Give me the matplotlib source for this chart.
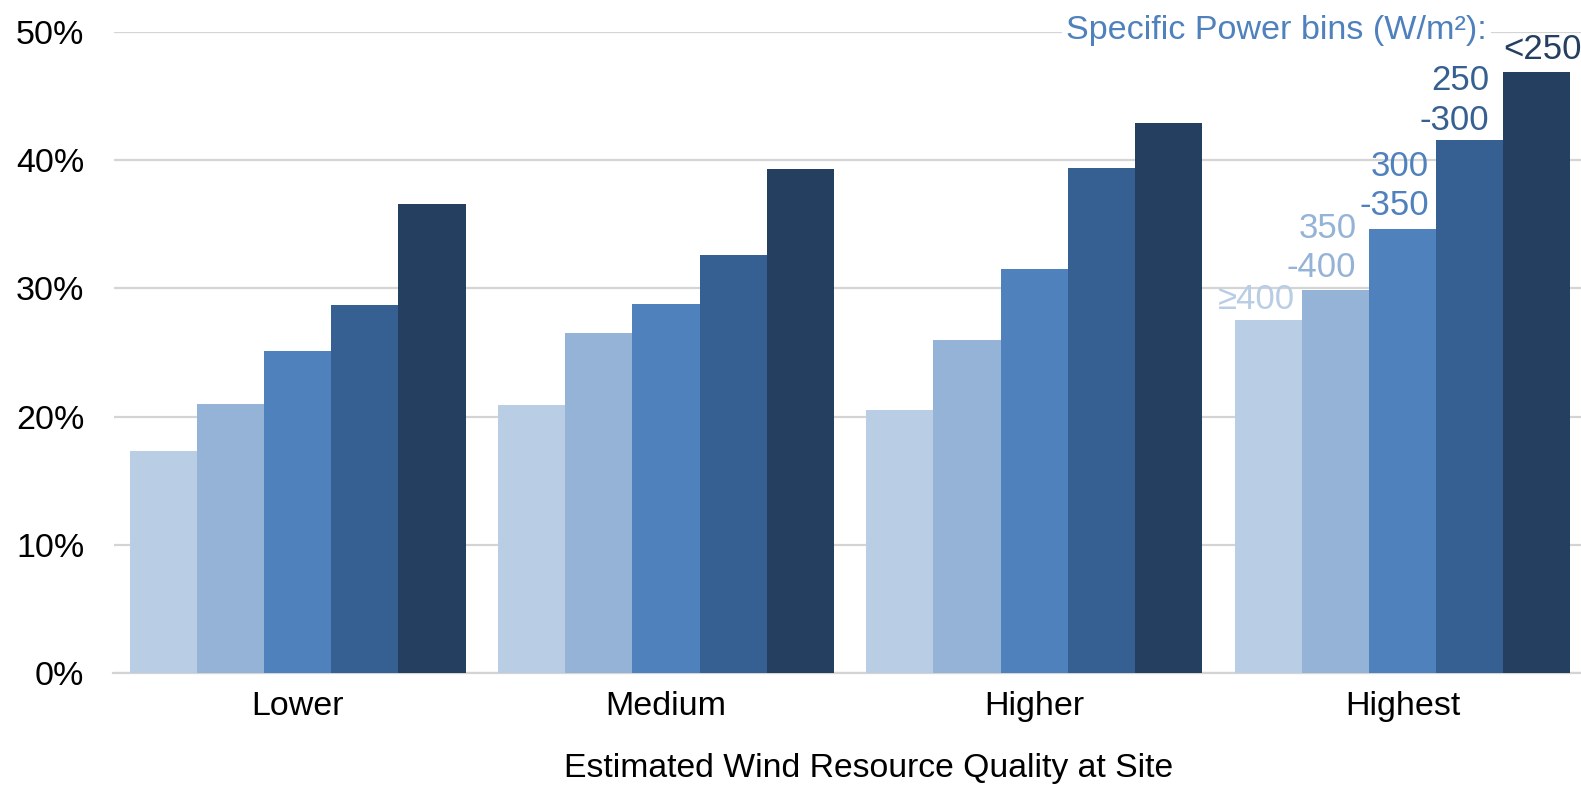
import numpy as np
import matplotlib
matplotlib.use("Agg")
import matplotlib.pyplot as plt

plt.rcParams['font.family'] = ['Liberation Sans', 'DejaVu Sans']

categories = ["Lower", "Medium", "Higher", "Highest"]
bins = ["\u2265400", "350\n-400", "300\n-350", "250\n-300", "<250"]
# capacity factor (%) per specific power bin, one list per bin
cf_ge400 = [17.3, 20.9, 20.5, 27.5]
cf_350_400 = [21.0, 26.5, 26.0, 29.9]
cf_300_350 = [25.1, 28.8, 31.5, 34.6]
cf_250_300 = [28.7, 32.6, 39.4, 41.6]
cf_lt250 = [36.6, 39.3, 42.9, 46.9]
yticks = [0, 10, 20, 30, 40, 50]

series = [cf_ge400, cf_350_400, cf_300_350, cf_250_300, cf_lt250]
colors = ["#B9CDE5", "#95B3D7", "#4F81BD", "#366092", "#243F60"]

fig = plt.figure(figsize=(15.81, 7.85), dpi=100)
ax = fig.add_axes([113.5/1581, 0.1427, (1586.7-113.5)/1581, 0.9592-0.1427])

x = np.arange(len(categories))
w = 0.1824
for i, (vals, c) in enumerate(zip(series, colors)):
    ax.bar(x + (i - 2) * w, vals, width=w, color=c, zorder=3)

ax.set_xlim(-0.5, 3.5)
ax.set_ylim(0, 50)
ax.set_yticks(yticks)
ax.set_yticklabels([f"{t}%" for t in yticks], fontsize=24.5)
ax.set_xticks(x)
ax.set_xticklabels(categories, fontsize=24.5)
ax.tick_params(axis='both', length=0)
ax.tick_params(axis='y', pad=21)
ax.tick_params(axis='x', pad=13)
ax.grid(axis='y', color='#D4D4D4', linewidth=1.6, zorder=0)
for s in ['top', 'right', 'left']:
    ax.spines[s].set_visible(False)
ax.spines['bottom'].set_color('#D4D4D4')
ax.spines['bottom'].set_linewidth(1.6)

# bin labels next to the "Highest" bars
last = len(categories) - 1
offsets = [(-5, 3), (-9, 4), (-5, 5), (-10, 2), (0, 4)]
for i, (lab, c, (dx, dy)) in enumerate(zip(bins, colors, offsets)):
    xc = x[last] + (i - 2) * w
    val = series[i][last]
    if i == 4:
        ax.annotate(lab, xy=(xc - w/2, val), xytext=(dx, dy), textcoords='offset points',
                    ha='left', va='bottom', color=c, fontsize=25, linespacing=1.25,
                    annotation_clip=False)
    else:
        ax.annotate(lab, xy=(xc + w/2, val), xytext=(dx, dy), textcoords='offset points',
                    ha='right', va='bottom', color=c, fontsize=25, linespacing=1.25)

fig.text(1487/1581, 1 - 30.5/785, "Specific Power bins (W/m\u00b2):", ha='right', va='center',
         fontsize=24.6, color='#4F81BD',
         bbox=dict(facecolor='white', edgecolor='none', pad=3))

fig.text(869/1581, 1 - 769/785, "Estimated Wind Resource Quality at Site",
         ha='center', va='center', fontsize=24.3)

fig.savefig("out.png", dpi=100)
